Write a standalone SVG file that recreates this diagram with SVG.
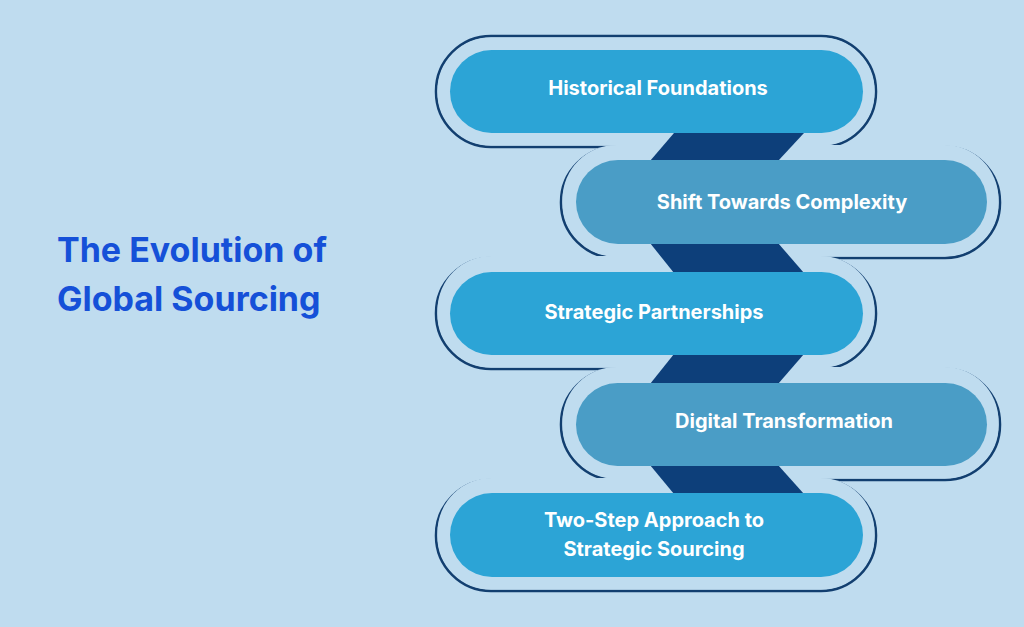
<svg xmlns="http://www.w3.org/2000/svg" width="1024" height="627" viewBox="0 0 1024 627">
<style>
.ol{fill:none;stroke:#123f70;stroke-width:2.5}
.olf{fill:#bfdcef}
.pa{fill:#2ca4d6}
.pb{fill:#4a9dc6}
.cn{fill:#0d3f7a}
.t{font-family:Inter,"Liberation Sans",sans-serif;font-weight:700;font-size:20px;fill:#fff;text-anchor:middle}
.h{font-family:Inter,"Liberation Sans",sans-serif;font-weight:700;font-size:34px;fill:#1550d8}
</style>
<rect width="1024" height="627" fill="#bfdcef"/>
<g id="outlines">
<rect class="ol" x="436" y="36" width="440" height="111" rx="55"/>
<rect class="ol" x="561" y="147" width="439" height="111" rx="55"/>
<rect class="ol" x="436" y="258" width="440" height="111" rx="55"/>
<rect class="ol" x="561" y="369" width="439" height="111" rx="55"/>
<rect class="ol" x="436" y="480" width="440" height="111" rx="55"/>
<rect class="olf" x="437.5" y="37.5" width="437" height="108" rx="54"/>
<rect class="olf" x="562.5" y="145" width="436" height="111.5" rx="54"/>
<rect class="olf" x="437.5" y="256" width="437" height="111.5" rx="54"/>
<rect class="olf" x="562.5" y="367" width="436" height="111.5" rx="54"/>
<rect class="olf" x="437.5" y="478" width="437" height="111.5" rx="54"/>
</g>
<g id="connectors">
<polygon class="cn" points="674,133 804,133 778,161 650,161"/>
<polygon class="cn" points="650,243 778,243 804,273 674,273"/>
<polygon class="cn" points="674,354 804,354 778,384 650,384"/>
<polygon class="cn" points="650,465 778,465 804,494 674,494"/>
</g>
<g id="n1"><rect class="pa" x="450" y="50" width="413" height="83" rx="41.5"/><text class="t" x="658" y="95">Historical Foundations</text></g>
<g id="n2"><rect class="pb" x="576" y="160" width="411" height="84" rx="42"/><text class="t" x="782" y="209">Shift Towards Complexity</text></g>
<g id="n3"><rect class="pa" x="450" y="272" width="413" height="83" rx="41.5"/><text class="t" x="654" y="319">Strategic Partnerships</text></g>
<g id="n4"><rect class="pb" x="576" y="383" width="411" height="83" rx="41.5"/><text class="t" x="784" y="428">Digital Transformation</text></g>
<g id="n5"><rect class="pa" x="450" y="493" width="413" height="84" rx="42"/><text class="t" x="654" y="527">Two-Step Approach to</text><text class="t" x="654" y="556">Strategic Sourcing</text></g>
<g id="title"><text class="h" x="57" y="262">The Evolution of</text><text class="h" x="57" y="311">Global Sourcing</text></g>
</svg>
